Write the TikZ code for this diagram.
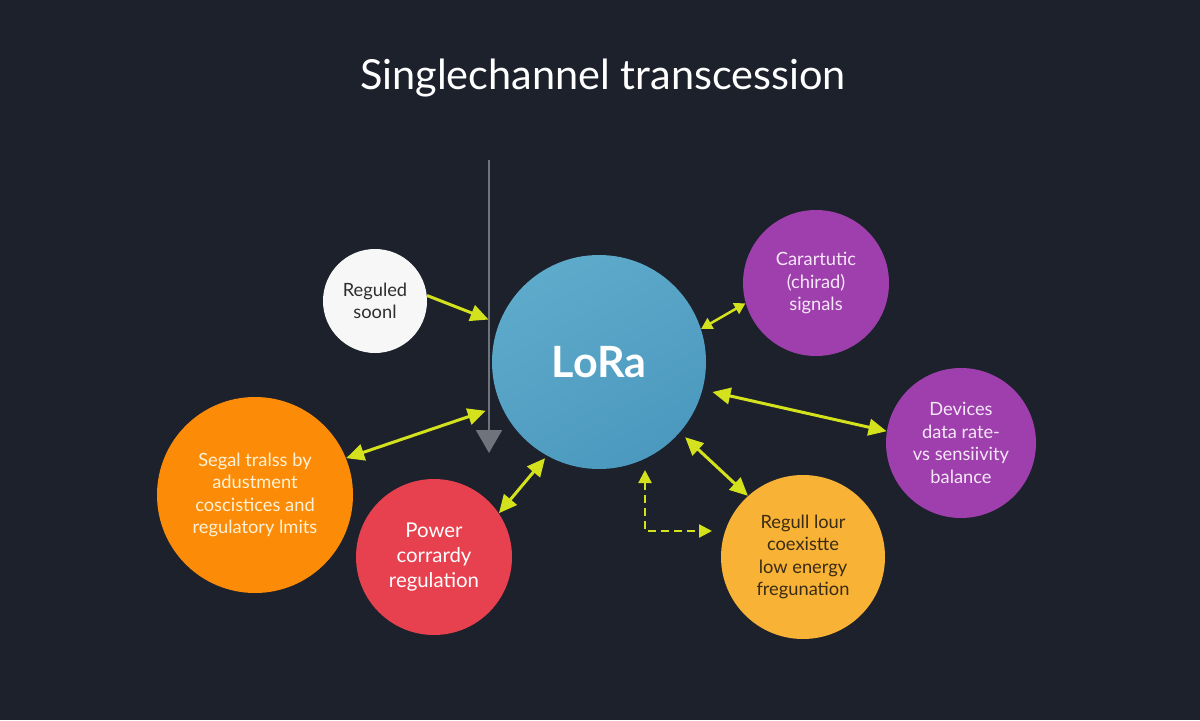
\documentclass[tikz,border=0pt]{standalone}
\usepackage{fontspec}
\setmainfont{Lato}
\usetikzlibrary{arrows.meta}
\definecolor{bg}{HTML}{1C212B}
\definecolor{lorablue}{HTML}{4C99BF}
\definecolor{loralight}{HTML}{5DAACB}
\definecolor{wcirc}{HTML}{F7F7F7}
\definecolor{purp}{HTML}{9E3FAD}
\definecolor{orng}{HTML}{FC8C08}
\definecolor{redc}{HTML}{E7414F}
\definecolor{yelc}{HTML}{F8B235}
\definecolor{arr}{HTML}{D3E21C}
\definecolor{grayarr}{HTML}{6E737C}
\definecolor{darktxt}{HTML}{2E2E2E}
\definecolor{browntxt}{HTML}{3A2C14}
\definecolor{cream}{HTML}{FFF1D6}
\definecolor{lilac}{HTML}{F6E8F8}
\begin{document}
\begin{tikzpicture}[x=0.2mm,y=-0.2mm,
  circ/.style={circle, inner sep=0pt, minimum size=#1*0.4mm, align=center,
    font=\fontsize{10.4}{12.8}\selectfont},
  conn/.style={draw=arr, line width=0.6mm,
    {Triangle[length=3.6mm,width=3.3mm]}-{Triangle[length=3.6mm,width=3.3mm]}},
  shortconn/.style={draw=arr, line width=0.5mm,
    {Triangle[length=2.2mm,width=2.4mm]}-{Triangle[length=2.2mm,width=2.4mm]}},
  oneway/.style={draw=arr, line width=0.6mm, -{Triangle[length=3.6mm,width=3.3mm]}},
  dconn/.style={draw=arr, line width=0.45mm, dash pattern=on 1.6mm off 1mm,
    {Triangle[length=2.6mm,width=2.6mm]}-{Triangle[length=2.6mm,width=2.6mm]}},
  grayline/.style={draw=grayarr, line width=0.35mm, -{Triangle[length=4.6mm,width=5.2mm]}}
]
\fill[bg] (0,0) rectangle (1200,720);
\useasboundingbox (0,0) rectangle (1200,720);

\node[text=white, font=\fontsize{23.6}{28}\selectfont] (title) at (603,78) {Singlechannel transcession};

% gray vertical arrow
\coordinate (gtop) at (489,160);
\coordinate (gbot) at (489,453);
\draw[grayline] (gtop) -- (gbot);

\node[circ=107, top color=loralight, bottom color=lorablue, shading angle=30, text=white, font=\fontsize{24.5}{28}\bfseries] (lora) at (599,362) {LoRa};
\node[circ=52, fill=wcirc, text=darktxt] (wht) at (375,301) {Reguled\\soonl};
\node[circ=73, fill=purp, text=lilac] (ptop) at (816,283) {Carartutic\\(chirad)\\signals};
\node[circ=75, fill=purp, text=lilac] (pright) at (961,443) {Devices\\data rate-\\vs sensiivity\\balance};
\node[circ=98, fill=orng, text=cream] (org) at (255,495) {Segal tralss by\\adustment\\coscistices and\\regulatory lmits};
\node[circ=78, fill=redc, text=white, font=\fontsize{11.6}{14}\selectfont] (red) at (434,557) {Power\\corrardy\\regulation};
\node[circ=82, fill=yelc, text=browntxt] (yel) at (803,557) {Regull lour\\coexistte\\low energy\\fregunation};

% connectors
\draw[oneway, shorten >=2.2mm] (wht.6) -- (lora.159);
\draw[conn, shorten <=3.2mm] (lora.204) -- (org.22);
\draw[conn, shorten <=0.6mm] (lora.241) -- (red.34);
\draw[shortconn] (lora.18) -- (ptop.196);
\draw[conn, shorten <=2mm] (lora.345) -- (pright.171);
\draw[conn, shorten <=1.4mm] (lora.319) -- (yel.132);

% dashed elbow
\coordinate (dtop) at (645,470);
\coordinate (dcorner) at (645,531);
\coordinate (dright) at (712,531);
\draw[dconn] (dtop) -- (dcorner) -- (dright);
\end{tikzpicture}
\end{document}
